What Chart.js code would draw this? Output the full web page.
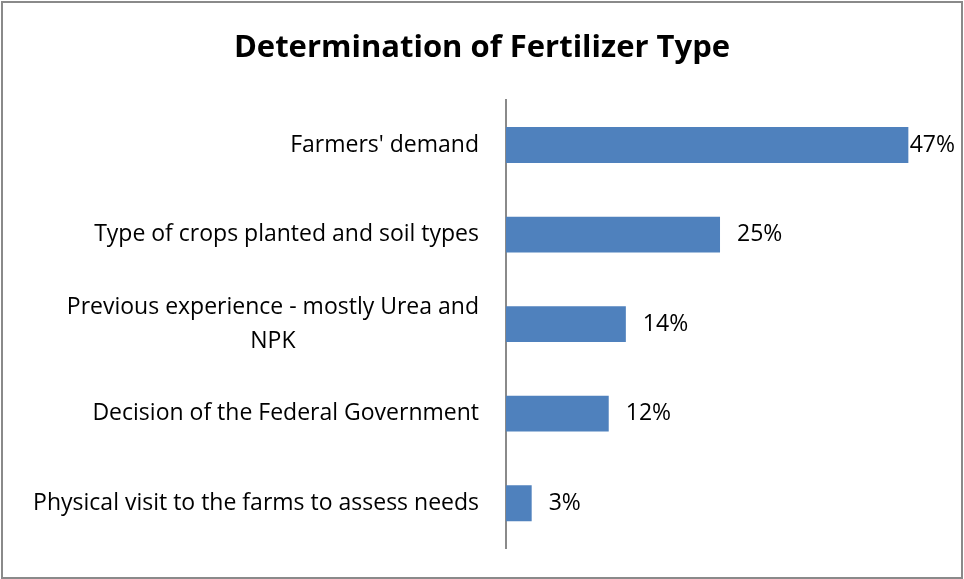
<!DOCTYPE html>
<html>
<head>
<meta charset="utf-8">
<title>Determination of Fertilizer Type</title>
<script src="https://cdn.jsdelivr.net/npm/chart.js@4"></script>
<style>
  html, body { margin: 0; padding: 0; background: #fff; }
  #frame {
    position: absolute; left: 1px; top: 1px;
    width: 958px; height: 574px;
    border: 2px solid #8a8a8a;
  }
  #wrap { position: absolute; left: -3px; top: -3px; width: 964px; height: 579px; }
</style>
</head>
<body>
<div id="frame"><div id="wrap"><canvas id="myChart" width="964" height="579"></canvas></div></div>
<script>
// data
const categories = [
  "Farmers' demand",
  "Type of crops planted and soil types",
  ["Previous experience - mostly Urea and", "NPK"],
  "Decision of the Federal Government",
  "Physical visit to the farms to assess needs"
];
const shares = [47, 25, 14, 12, 3];

const FONT = "'Open Sans', sans-serif";

// category labels: block right aligned, lines centred to each other
const catLabels = {
  id: 'catLabels',
  afterDraw: function(chart) {
    var ctx = chart.ctx;
    var y = chart.scales.y;
    var right = 479;
    ctx.save();
    ctx.font = "23px " + FONT;
    ctx.fillStyle = "#000";
    ctx.textBaseline = "middle";
    ctx.textAlign = "center";
    for (var i = 0; i < categories.length; i++) {
      var lines = Array.isArray(categories[i]) ? categories[i] : [categories[i]];
      var w = 0;
      for (var j = 0; j < lines.length; j++) {
        w = Math.max(w, ctx.measureText(lines[j]).width);
      }
      var lh = 34;
      var cy = y.getPixelForValue(i) - (lines.length - 1) * lh / 2;
      for (var j = 0; j < lines.length; j++) {
        ctx.fillText(lines[j], right - w / 2, cy + j * lh);
      }
    }
    ctx.restore();
  }
};

// value labels after each bar
const valueLabels = {
  id: 'valueLabels',
  afterDatasetsDraw: function(chart) {
    var ctx = chart.ctx;
    var meta = chart.getDatasetMeta(0);
    ctx.save();
    ctx.font = "23px " + FONT;
    ctx.fillStyle = "#000";
    ctx.textBaseline = "middle";
    ctx.textAlign = "left";
    for (var i = 0; i < meta.data.length; i++) {
      var bar = meta.data[i];
      var txt = shares[i] + "%";
      var w = ctx.measureText(txt).width;
      var x = Math.min(bar.x + 17, 955 - w);
      ctx.fillText(txt, x, bar.y);
    }
    ctx.restore();
  }
};

new Chart("myChart", {
  type: "bar",
  data: {
    labels: categories,
    datasets: [{
      data: shares,
      backgroundColor: "#4f81bd",
      barPercentage: 0.4,
      categoryPercentage: 1.0
    }]
  },
  options: {
    indexAxis: 'y',
    responsive: false,
    animation: false,
    layout: { padding: { left: 0, right: 0, top: 0, bottom: 31 } },
    plugins: {
      legend: { display: false },
      tooltip: { enabled: false },
      title: {
        display: true,
        text: "Determination of Fertilizer Type",
        color: "#000",
        font: { family: FONT, size: 31, weight: 'bold', lineHeight: 1.2 },
        padding: { top: 30, bottom: 33 }
      }
    },
    scales: {
      x: {
        display: false,
        min: 0,
        max: 53.5
      },
      y: {
        grid: { display: false },
        border: { display: true, color: "#8a8a8a", width: 2 },
        ticks: { display: false },
        afterFit: function(scale) { scale.width = 506; }
      }
    }
  },
  plugins: [catLabels, valueLabels]
});
</script>
</body>
</html>
